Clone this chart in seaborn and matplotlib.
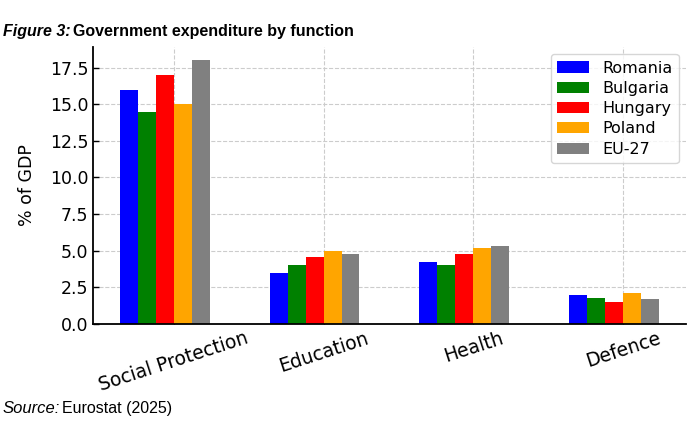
import matplotlib
matplotlib.use("Agg")
import matplotlib.pyplot as plt
import seaborn as sns
import pandas as pd
import numpy as np

# data
functions = ["Social Protection", "Education", "Health", "Defence"]
countries = ["Romania", "Bulgaria", "Hungary", "Poland", "EU-27"]
romania = [16.0, 3.5, 4.2, 2.0]
bulgaria = [14.5, 4.0, 4.0, 1.8]
hungary = [17.0, 4.6, 4.8, 1.5]
poland = [15.0, 5.0, 5.2, 2.1]
eu27 = [18.0, 4.8, 5.3, 1.7]
colors = ["blue", "green", "red", "orange", "gray"]

rows = []
for name, vals in zip(countries, [romania, bulgaria, hungary, poland, eu27]):
    for f, v in zip(functions, vals):
        rows.append({"Function": f, "Country": name, "Value": v})
df = pd.DataFrame(rows)

sns.set_style("white", {"text.color": "black", "axes.labelcolor": "black",
                        "xtick.color": "black", "ytick.color": "black"})
plt.rcParams['font.family'] = ['DejaVu Sans']

fig = plt.figure(figsize=(6.95, 4.37), dpi=100)
ax = fig.add_axes([0.1338, 0.2586, 0.853, 0.6338])

sns.barplot(data=df, x="Function", y="Value", hue="Country", order=functions,
            hue_order=countries, palette=colors, width=0.6, saturation=1,
            errorbar=None, linewidth=0, ax=ax)

ax.set_xlim(-0.48, 3.48)
ax.set_ylim(0, 18.9)
ax.set_yticks(np.arange(0, 18, 2.5))
ax.set_xticks(np.arange(len(functions)) + 0.06)
ax.set_xticklabels(functions, rotation=18, ha="center", fontsize=13.5)
ax.tick_params(axis="y", labelsize=12.5)
ax.tick_params(direction="in", length=4, width=1, color="black", left=True, bottom=True)
ax.set_xlabel("")
ax.set_ylabel("% of GDP", fontsize=12.5, labelpad=10)
ax.grid(True, linestyle="--", color="#cccccc", linewidth=0.8)
ax.set_axisbelow(True)
for s in ["top", "right"]:
    ax.spines[s].set_visible(False)
for s in ["left", "bottom"]:
    ax.spines[s].set_color("black")
    ax.spines[s].set_linewidth(1.3)

ax.legend(loc="upper right", fontsize=11.5, frameon=True, title=None,
          labelspacing=0.33, borderaxespad=0.45)

# title: italic bold "Figure 3:" followed by bold text
t1 = fig.text(0.004, 0.918, "Figure 3:", fontsize=11.5, family="Liberation Sans",
              weight="bold", style="italic", va="baseline", color="black")
fig.canvas.draw()
bb = t1.get_window_extent()
fig.text(bb.x1 / fig.bbox.width + 0.004, 0.918, "Government expenditure by function",
         fontsize=11.5, family="Liberation Sans", weight="bold", va="baseline",
         color="black")

t2 = fig.text(0.004, 0.055, "Source:", fontsize=12, family="Liberation Sans",
              style="italic", va="baseline", color="black")
fig.canvas.draw()
bb2 = t2.get_window_extent()
fig.text(bb2.x1 / fig.bbox.width + 0.003, 0.055, "Eurostat (2025)", fontsize=11.5,
         family="Liberation Sans", va="baseline", color="black")

fig.savefig("out.png", dpi=100)
